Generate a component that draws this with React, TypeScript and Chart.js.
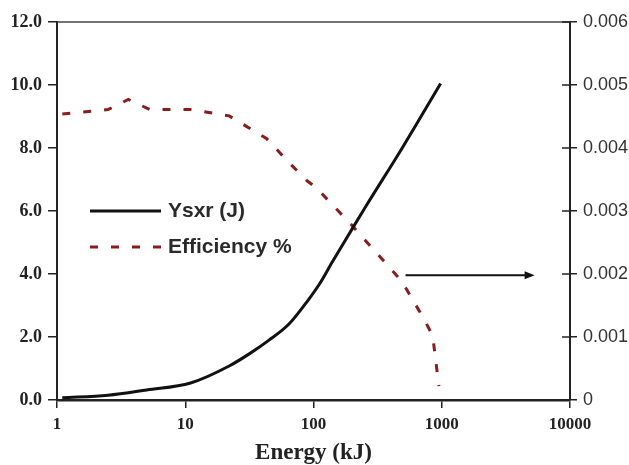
import React, { useEffect, useRef } from 'react';
import { Chart, registerables } from 'chart.js';

Chart.register(...registerables);

// ---- data ----
const ysxrEnergy = [1.1, 2.5, 5, 11, 22, 32, 45, 65, 90, 112, 140, 190, 250, 500, 980];
const ysxrValues = [0.07, 0.15, 0.32, 0.54, 1.08, 1.48, 1.9, 2.43, 3.15, 3.7, 4.38, 5.28, 6.08, 8.05, 10.05];

const effEnergy = [1.1, 2.5, 3.6, 5.3, 11, 22, 43, 65, 89, 105, 200, 490, 720, 850, 950];
const effValues = [
  0.00454, 0.00461, 0.00477, 0.00461, 0.00461, 0.00451, 0.00415, 0.00376,
  0.00348, 0.00337, 0.00277, 0.00188, 0.0013, 0.00102, 0.00022,
];

const xTickValues = [1, 10, 100, 1000, 10000];
const seriesLabels = ['Ysxr (J)', 'Efficiency %'];
const xTitle = 'Energy (kJ)';

// annotation arrow pointing to the right-hand axis
const arrowEnergy = [522, 5300];
const arrowLevel = 0.00198;

const BLACK = '#111111';
const RED = '#8b1c1c';

const extrasPlugin = {
  id: 'extras',
  afterDraw(chart: any) {
    const { ctx, chartArea: a, scales } = chart;
    const xs = scales.x;
    const yR = scales.y1;
    ctx.save();

    // top frame line
    ctx.strokeStyle = '#444';
    ctx.lineWidth = 1.5;
    ctx.beginPath();
    ctx.moveTo(a.left, a.top);
    ctx.lineTo(a.right, a.top);
    ctx.stroke();

    // inner tick marks on right axis
    ctx.strokeStyle = '#222';
    ctx.lineWidth = 1.5;
    yR.ticks.forEach((t: any) => {
      const py = yR.getPixelForValue(t.value);
      ctx.beginPath();
      ctx.moveTo(a.right - 8, py);
      ctx.lineTo(a.right, py);
      ctx.stroke();
    });

    // arrow
    const ay = yR.getPixelForValue(arrowLevel);
    const x0 = xs.getPixelForValue(arrowEnergy[0]);
    const x1 = xs.getPixelForValue(arrowEnergy[1]);
    ctx.strokeStyle = '#111';
    ctx.lineWidth = 1.8;
    ctx.beginPath();
    ctx.moveTo(x0, ay);
    ctx.lineTo(x1 - 8, ay);
    ctx.stroke();
    ctx.fillStyle = '#111';
    ctx.beginPath();
    ctx.moveTo(x1, ay);
    ctx.lineTo(x1 - 10, ay - 4);
    ctx.lineTo(x1 - 10, ay + 4);
    ctx.closePath();
    ctx.fill();

    // legend inside the plot
    const lg = chart.options.plugins.extras || {};
    const lx = lg.x ?? 90;
    const ly = lg.y ?? 211;
    const gap = lg.gap ?? 36;
    chart.data.datasets.forEach((ds: any, i: number) => {
      const y = ly + i * gap;
      ctx.strokeStyle = ds.borderColor;
      ctx.lineWidth = 3;
      ctx.setLineDash(ds.borderDash || []);
      ctx.beginPath();
      ctx.moveTo(lx, y);
      ctx.lineTo(lx + 71, y);
      ctx.stroke();
      ctx.setLineDash([]);
      ctx.fillStyle = '#2a2a2a';
      ctx.font = 'bold 21px "Liberation Sans", Arial, sans-serif';
      ctx.textBaseline = 'middle';
      ctx.textAlign = 'left';
      ctx.fillText(ds.label, lx + 78, y);
    });

    ctx.restore();
  },
};

export default function App() {
  const canvasRef = useRef<HTMLCanvasElement | null>(null);

  useEffect(() => {
    if (!canvasRef.current) return;
    const chart = new Chart(canvasRef.current, {
      type: 'line',
      data: {
        datasets: [
          {
            label: seriesLabels[0],
            data: ysxrEnergy.map((e, i) => ({ x: e, y: ysxrValues[i] })),
            yAxisID: 'y',
            borderColor: BLACK,
            borderWidth: 3,
            pointRadius: 0,
            cubicInterpolationMode: 'monotone',
            fill: false,
          },
          {
            label: seriesLabels[1],
            data: effEnergy.map((e, i) => ({ x: e, y: effValues[i] })),
            yAxisID: 'y1',
            borderColor: RED,
            borderWidth: 3,
            borderDash: [8, 13],
            pointRadius: 0,
            tension: 0,
            fill: false,
          },
        ],
      },
      options: {
        animation: false,
        responsive: false,
        maintainAspectRatio: false,
        layout: { padding: { top: 22, left: 0, right: 0, bottom: 0 } },
        plugins: {
          legend: { display: false },
          tooltip: { enabled: false },
          extras: { x: 90, y: 211, gap: 36 },
        } as any,
        scales: {
          x: {
            type: 'logarithmic',
            min: 1,
            max: 10000,
            afterBuildTicks: (s: any) => {
              s.ticks = xTickValues.map((v) => ({ value: v }));
            },
            afterFit: (s: any) => {
              s.height = 65;
            },
            ticks: {
              autoSkip: false,
              maxRotation: 0,
              callback: (v: any) => String(v),
              font: { family: '"Liberation Serif", "Times New Roman", serif', weight: 'bold', size: 17 },
              color: '#222',
              padding: 6,
            },
            grid: { drawOnChartArea: false, drawTicks: true, tickLength: 8, color: '#222', lineWidth: 1.5 },
            border: { display: true, color: '#222', width: 2.5 },
            title: {
              display: true,
              text: xTitle,
              font: { family: '"Liberation Serif", "Times New Roman", serif', weight: 'bold', size: 23, lineHeight: 1 },
              color: '#222',
              padding: { top: 0, bottom: 0 },
            },
          },
          y: {
            position: 'left',
            min: 0,
            max: 12,
            afterFit: (s: any) => {
              s.width = 57;
            },
            ticks: {
              stepSize: 2,
              callback: (v: any) => Number(v).toFixed(1),
              font: { family: '"Liberation Serif", "Times New Roman", serif', weight: 'bold', size: 18 },
              color: '#222',
              padding: 6,
            },
            grid: { drawOnChartArea: false, drawTicks: true, tickLength: 9, color: '#222', lineWidth: 1.5 },
            border: { display: true, color: '#222', width: 2 },
          },
          y1: {
            position: 'right',
            min: 0,
            max: 0.006,
            afterFit: (s: any) => {
              s.width = 59;
            },
            ticks: {
              stepSize: 0.001,
              callback: (v: any) => (Number(v) === 0 ? '0' : Number(v).toFixed(3)),
              font: { family: '"Liberation Sans", Arial, sans-serif', size: 18 },
              color: '#333',
              padding: 6,
            },
            grid: { drawOnChartArea: false, drawTicks: true, tickLength: 7, color: '#222', lineWidth: 1.5 },
            border: { display: true, color: '#222', width: 2 },
          },
        },
      } as any,
      plugins: [extrasPlugin],
    });
    return () => chart.destroy();
  }, []);

  return (
    <div style={{ position: 'fixed', left: 0, top: 0, width: 629, height: 465, background: '#fff' }}>
      <canvas ref={canvasRef} width={629} height={465} style={{ display: 'block' }} />
    </div>
  );
}
